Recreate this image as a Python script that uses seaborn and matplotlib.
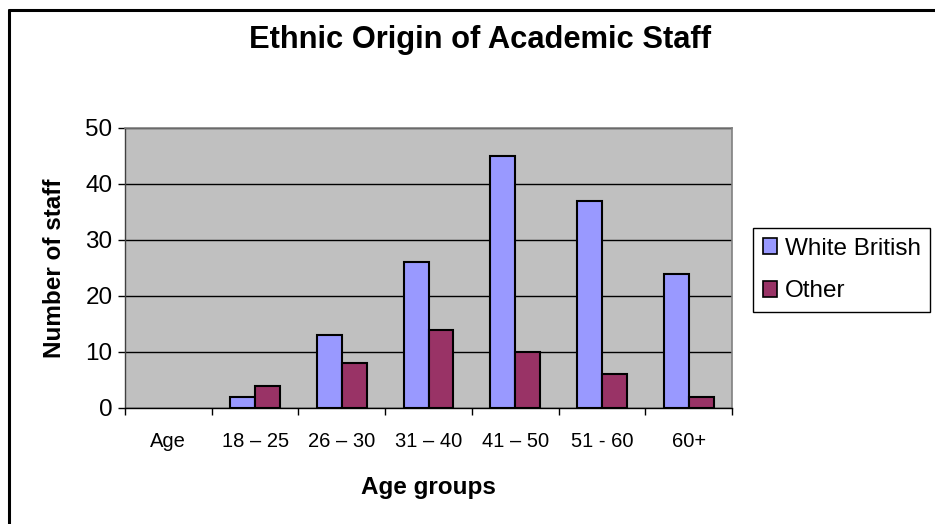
import pandas as pd
import matplotlib.pyplot as plt
import seaborn as sns
from matplotlib.lines import Line2D

# data
age_groups = ['Age', '18 \u2013 25', '26 \u2013 30', '31 \u2013 40', '41 \u2013 50', '51 - 60', '60+']
white_british = [0, 2, 13, 26, 45, 37, 24]
other = [0, 4, 8, 14, 10, 6, 2]
series_names = ['White British', 'Other']
colors = ['#9999FF', '#993366']

df = pd.DataFrame({
    'group': age_groups * 2,
    'count': white_british + other,
    'origin': [series_names[0]] * len(age_groups) + [series_names[1]] * len(age_groups),
})

sns.set_style('white')
plt.rcParams['font.family'] = ['Liberation Sans', 'DejaVu Sans']
plt.rcParams['text.color'] = 'black'
plt.rcParams['axes.labelcolor'] = 'black'
plt.rcParams['xtick.color'] = 'black'
plt.rcParams['ytick.color'] = 'black'

fig = plt.figure(figsize=(9.35, 5.24), dpi=100)
ax = fig.add_axes([125 / 935, 1 - 408 / 524, (732 - 125) / 935, (408 - 128) / 524])
ax.set_facecolor('#C0C0C0')

sns.barplot(data=df, x='group', y='count', hue='origin', palette=colors, saturation=1,
            width=0.575, edgecolor='black', linewidth=1.5, ax=ax, zorder=3)

# empty bars should leave no outline
for p in ax.patches:
    if p.get_height() == 0:
        p.set_linewidth(0)

ax.set_ylim(0, 50)
ax.set_xlim(-0.5, len(age_groups) - 0.5)
ax.set_yticks([0, 10, 20, 30, 40, 50])
ax.yaxis.grid(True, color='black', linewidth=1)
ax.set_axisbelow(True)

# category boundary ticks like Excel
ax.set_xticks([i - 0.5 for i in range(len(age_groups) + 1)], minor=True)
ax.tick_params(axis='x', which='major', length=0, labelsize=14.5, pad=17)
ax.tick_params(axis='x', which='minor', length=5, width=1, color='black', direction='out', bottom=True)
ax.tick_params(axis='y', length=5, width=1, color='black', direction='out', left=True, labelsize=17.5, pad=4)

for side in ['top', 'right']:
    ax.spines[side].set_color('#808080')
    ax.spines[side].set_linewidth(1.2)
ax.spines['left'].set_color('#404040')
ax.spines['bottom'].set_color('black')
ax.spines['left'].set_linewidth(1)
ax.spines['bottom'].set_linewidth(1)

ax.set_xlabel('Age groups', fontsize=17.5, fontweight='bold', labelpad=18)
ax.set_ylabel('Number of staff', fontsize=17.5, fontweight='bold', labelpad=14)

fig.text(480 / 935, 1 - 40 / 524, 'Ethnic Origin of Academic Staff', fontsize=22.2,
         fontweight='bold', ha='center', va='center')

leg = ax.legend(loc='upper left', bbox_to_anchor=(753 / 935, 1 - 228 / 524),
                bbox_transform=fig.transFigure, fontsize=17.5, frameon=True,
                fancybox=False, framealpha=1, edgecolor='black',
                handlelength=0.6, handleheight=0.6, handletextpad=0.3,
                borderpad=0.4, labelspacing=0.85, borderaxespad=0)
leg.get_frame().set_linewidth(1)
for h in leg.legend_handles:
    h.set_edgecolor('black')
    h.set_linewidth(1.2)

# chart border (left and top edges visible)
fig.add_artist(Line2D([8.5 / 935, 8.5 / 935], [0, 1 - 10 / 524], color='black', linewidth=2.2))
fig.add_artist(Line2D([8.5 / 935, 1], [1 - 10 / 524, 1 - 10 / 524], color='black', linewidth=2.2))

fig.savefig('out.png', dpi=100)
